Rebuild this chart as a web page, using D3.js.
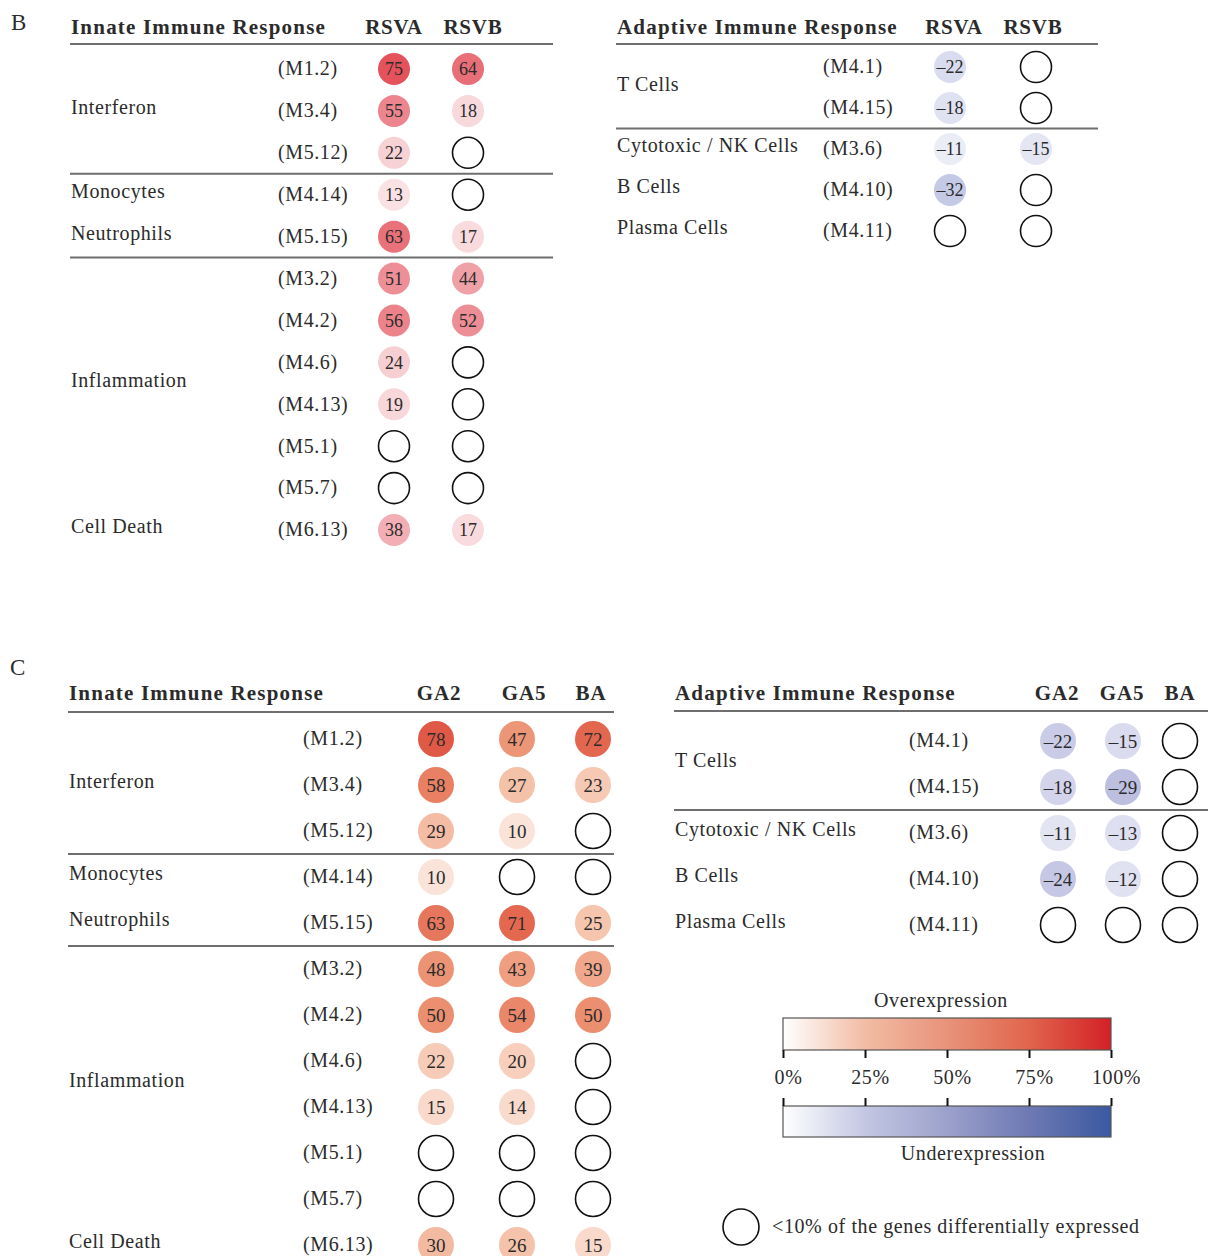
<!DOCTYPE html>
<html>
<head>
<meta charset="utf-8">
<script src="https://cdn.jsdelivr.net/npm/d3@7"></script>
<style>
  body { margin: 0; background: #fff; }
  svg text { font-family: "Liberation Serif", "DejaVu Serif", serif; fill: #2b2b2b; }
</style>
</head>
<body>
<div id="chart"></div>
<script>
// modules and their functional categories
var innateModules = ["M1.2", "M3.4", "M5.12", "M4.14", "M5.15", "M3.2", "M4.2", "M4.6", "M4.13", "M5.1", "M5.7", "M6.13"];
var innateCategories = ["Interferon", "Interferon", "Interferon", "Monocytes", "Neutrophils",
  "Inflammation", "Inflammation", "Inflammation", "Inflammation", "Inflammation", "Inflammation", "Cell Death"];
var adaptiveModules = ["M4.1", "M4.15", "M3.6", "M4.10", "M4.11"];
var adaptiveCategories = ["T Cells", "T Cells", "Cytotoxic / NK Cells", "B Cells", "Plasma Cells"];

// panel B columns (null = <10% of genes)
var colsB = ["RSVA", "RSVB"];
var innateRSVA = [75, 55, 22, 13, 63, 51, 56, 24, 19, null, null, 38];
var innateRSVB = [64, 18, null, null, 17, 44, 52, null, null, null, null, 17];
var adaptiveRSVA = [-22, -18, -11, -32, null];
var adaptiveRSVB = [null, null, -15, null, null];

// panel C columns
var colsC = ["GA2", "GA5", "BA"];
var innateGA2 = [78, 58, 29, 10, 63, 48, 50, 22, 15, null, null, 30];
var innateGA5 = [47, 27, 10, null, 71, 43, 54, 20, 14, null, null, 26];
var innateBA = [72, 23, null, null, 25, 39, 50, null, null, null, null, 15];
var adaptiveGA2 = [-22, -18, -11, -24, null];
var adaptiveGA5 = [-15, -29, -13, -12, null];
var adaptiveBA = [null, null, null, null, null];

var legendTicks = [0, 25, 50, 75, 100];

var svg = d3.select("#chart").append("svg")
  .attr("width", 1208)
  .attr("height", 1256);

// colour scales
var pinkB = d3.scaleLinear().domain([0, 10, 25, 50, 75, 100])
  .range(["#ffffff", "#fbe6e8", "#f6cdd0", "#ee929a", "#e4525c", "#d42027"]).clamp(true);
var blueB = d3.scaleLinear().domain([0, 10, 25, 50, 100])
  .range(["#ffffff", "#eceef7", "#d3d8ec", "#9ea7d2", "#3a59a0"]).clamp(true);
var redC = d3.scaleLinear().domain([0, 10, 25, 50, 75, 100])
  .range(["#ffffff", "#fae3d9", "#f5c5ae", "#ec8f70", "#e2604a", "#d42027"]).clamp(true);
var blueC = d3.scaleLinear().domain([0, 10, 25, 50, 100])
  .range(["#ffffff", "#e5e6f3", "#c3c5e4", "#9ca0cc", "#3a59a0"]).clamp(true);

var LABEL = 20, SPACING = 0.6;

function drawTable(opt) {
  var g = svg.append("g");
  var n = opt.modules.length;
  var y = d3.scalePoint().domain(d3.range(n)).range(opt.rows);
  var x = d3.scaleOrdinal().domain(opt.cols).range(opt.colX);
  var hx = d3.scaleOrdinal().domain(opt.cols).range(opt.headX);

  // header
  g.append("text")
    .attr("x", opt.left).attr("y", opt.headY)
    .attr("font-weight", "bold").attr("font-size", 21)
    .attr("letter-spacing", 1.2)
    .text(opt.title);
  g.selectAll(".colhead").data(opt.cols).enter().append("text")
    .attr("class", "colhead")
    .attr("x", function(d) { return hx(d); })
    .attr("y", opt.headY)
    .attr("text-anchor", "middle")
    .attr("font-weight", "bold").attr("font-size", 21)
    .attr("letter-spacing", 0.8)
    .text(function(d) { return d; });

  // header rule + group separators
  var lines = [opt.lineY];
  for (var i = 1; i < n; i++) {
    if (opt.breaks.indexOf(i) >= 0) lines.push((y(i - 1) + y(i)) / 2);
  }
  g.selectAll(".rule").data(lines).enter().append("line")
    .attr("x1", opt.left - 1).attr("x2", opt.right)
    .attr("y1", function(d) { return d; }).attr("y2", function(d) { return d; })
    .attr("stroke", "#6e6e6e").attr("stroke-width", 2);

  // category labels, centred on their group
  var groups = [];
  opt.categories.forEach(function(c, i) {
    var last = groups[groups.length - 1];
    if (last && last.name === c) last.end = i;
    else groups.push({ name: c, start: i, end: i });
  });
  g.selectAll(".cat").data(groups).enter().append("text")
    .attr("x", opt.left)
    .attr("y", function(d) { return (y(d.start) + y(d.end)) / 2 - 3; })
    .attr("dy", "0.32em")
    .attr("font-size", LABEL).attr("letter-spacing", SPACING)
    .text(function(d) { return d.name; });

  // module codes
  g.selectAll(".code").data(opt.modules).enter().append("text")
    .attr("x", opt.codeX)
    .attr("y", function(d, i) { return y(i); })
    .attr("dy", "0.32em")
    .attr("font-size", LABEL).attr("letter-spacing", SPACING)
    .text(function(d) { return "(" + d + ")"; });

  // cells
  var cells = [];
  opt.cols.forEach(function(c, j) {
    opt.values[j].forEach(function(v, i) { cells.push({ col: c, row: i, v: v }); });
  });
  var cell = g.selectAll(".cell").data(cells).enter().append("g")
    .attr("transform", function(d) { return "translate(" + x(d.col) + "," + y(d.row) + ")"; });
  cell.append("circle")
    .attr("r", function(d) { return d.v === null ? opt.r - 0.5 : opt.r; })
    .attr("fill", function(d) {
      if (d.v === null) return "none";
      return d.v < 0 ? opt.neg(-d.v) : opt.pos(d.v);
    })
    .attr("stroke", function(d) { return d.v === null ? "#111" : "none"; })
    .attr("stroke-width", 1.6);
  cell.filter(function(d) { return d.v !== null; }).append("text")
    .attr("text-anchor", "middle")
    .attr("dy", "0.35em")
    .attr("font-size", opt.numSize)
    .text(function(d) { return d.v < 0 ? "\u2013" + (-d.v) : d.v; });
}

// panel letters
svg.append("text").attr("x", 11).attr("y", 30).attr("font-size", 23).text("B");
svg.append("text").attr("x", 10).attr("y", 675).attr("font-size", 23).text("C");

// panel B
drawTable({
  title: "Innate Immune Response", cols: colsB, values: [innateRSVA, innateRSVB],
  modules: innateModules, categories: innateCategories, breaks: [3, 5],
  left: 71, right: 553, codeX: 278, headY: 34, lineY: 44, numSize: 18,
  rows: [69, 530], colX: [394, 468], headX: [394, 473], r: 16, pos: pinkB, neg: blueB
});
drawTable({
  title: "Adaptive Immune Response", cols: colsB, values: [adaptiveRSVA, adaptiveRSVB],
  modules: adaptiveModules, categories: adaptiveCategories, breaks: [2],
  left: 617, right: 1098, codeX: 823, headY: 34, lineY: 44, numSize: 18,
  rows: [67, 231], colX: [950, 1036], headX: [954, 1033], r: 16, pos: pinkB, neg: blueB
});

// panel C
drawTable({
  title: "Innate Immune Response", cols: colsC, values: [innateGA2, innateGA5, innateBA],
  modules: innateModules, categories: innateCategories, breaks: [3, 5],
  left: 69, right: 614, codeX: 303, headY: 700, lineY: 712, numSize: 19,
  rows: [739, 1245], colX: [436, 517, 593], headX: [439, 524, 591], r: 18, pos: redC, neg: blueC
});
drawTable({
  title: "Adaptive Immune Response", cols: colsC, values: [adaptiveGA2, adaptiveGA5, adaptiveBA],
  modules: adaptiveModules, categories: adaptiveCategories, breaks: [2],
  left: 675, right: 1208, codeX: 909, headY: 700, lineY: 711, numSize: 19,
  rows: [741, 925], colX: [1058, 1123, 1180], headX: [1057, 1122, 1180], r: 18, pos: redC, neg: blueC
});

// legend
var lx = d3.scaleLinear().domain([0, 100]).range([783, 1111]);
var defs = svg.append("defs");
function gradient(id, scale) {
  var gr = defs.append("linearGradient").attr("id", id);
  d3.range(0, 101, 5).forEach(function(t) {
    gr.append("stop").attr("offset", t + "%").attr("stop-color", scale(t));
  });
}
var legRed = d3.scaleLinear().domain([0, 25, 50, 75, 100])
  .range(["#ffffff", "#f2bca4", "#e8937a", "#e0654c", "#d42027"]);
var legBlue = d3.scaleLinear().domain([0, 25, 50, 75, 100])
  .range(["#ffffff", "#c3c7e2", "#9ca1cc", "#6e79b3", "#3a59a0"]);
gradient("gRed", legRed);
gradient("gBlue", legBlue);

var leg = svg.append("g");
leg.append("text").attr("x", 941).attr("y", 1007).attr("text-anchor", "middle")
  .attr("font-size", LABEL).attr("letter-spacing", SPACING).text("Overexpression");
leg.append("rect").attr("x", lx(0)).attr("y", 1018).attr("width", lx(100) - lx(0)).attr("height", 32)
  .attr("fill", "url(#gRed)").attr("stroke", "#555").attr("stroke-width", 1.2);
leg.append("rect").attr("x", lx(0)).attr("y", 1106).attr("width", lx(100) - lx(0)).attr("height", 31)
  .attr("fill", "url(#gBlue)").attr("stroke", "#555").attr("stroke-width", 1.2);

var axB = leg.append("g").attr("transform", "translate(0,1050)")
  .call(d3.axisBottom(lx).tickValues(legendTicks).tickSize(8).tickPadding(12)
    .tickFormat(function(d) { return d + "%"; }));
var axT = leg.append("g").attr("transform", "translate(0,1106)")
  .call(d3.axisTop(lx).tickValues(legendTicks).tickSize(8).tickFormat(""));
[axB, axT].forEach(function(a) {
  a.select(".domain").remove();
  a.selectAll(".tick line").attr("stroke", "#111").attr("stroke-width", 2);
});
axB.selectAll(".tick text")
  .attr("font-family", "Liberation Serif, serif").attr("font-size", LABEL)
  .attr("letter-spacing", SPACING)
  .attr("fill", "#2b2b2b").attr("dx", 5);

leg.append("text").attr("x", 973).attr("y", 1160).attr("text-anchor", "middle")
  .attr("font-size", LABEL).attr("letter-spacing", SPACING).text("Underexpression");

leg.append("circle").attr("cx", 741).attr("cy", 1227).attr("r", 18)
  .attr("fill", "none").attr("stroke", "#111").attr("stroke-width", 1.6);
leg.append("text").attr("x", 772).attr("y", 1227).attr("dy", "0.32em")
  .attr("font-size", LABEL).attr("letter-spacing", SPACING)
  .text("<10% of the genes differentially expressed");
</script>
</body>
</html>
